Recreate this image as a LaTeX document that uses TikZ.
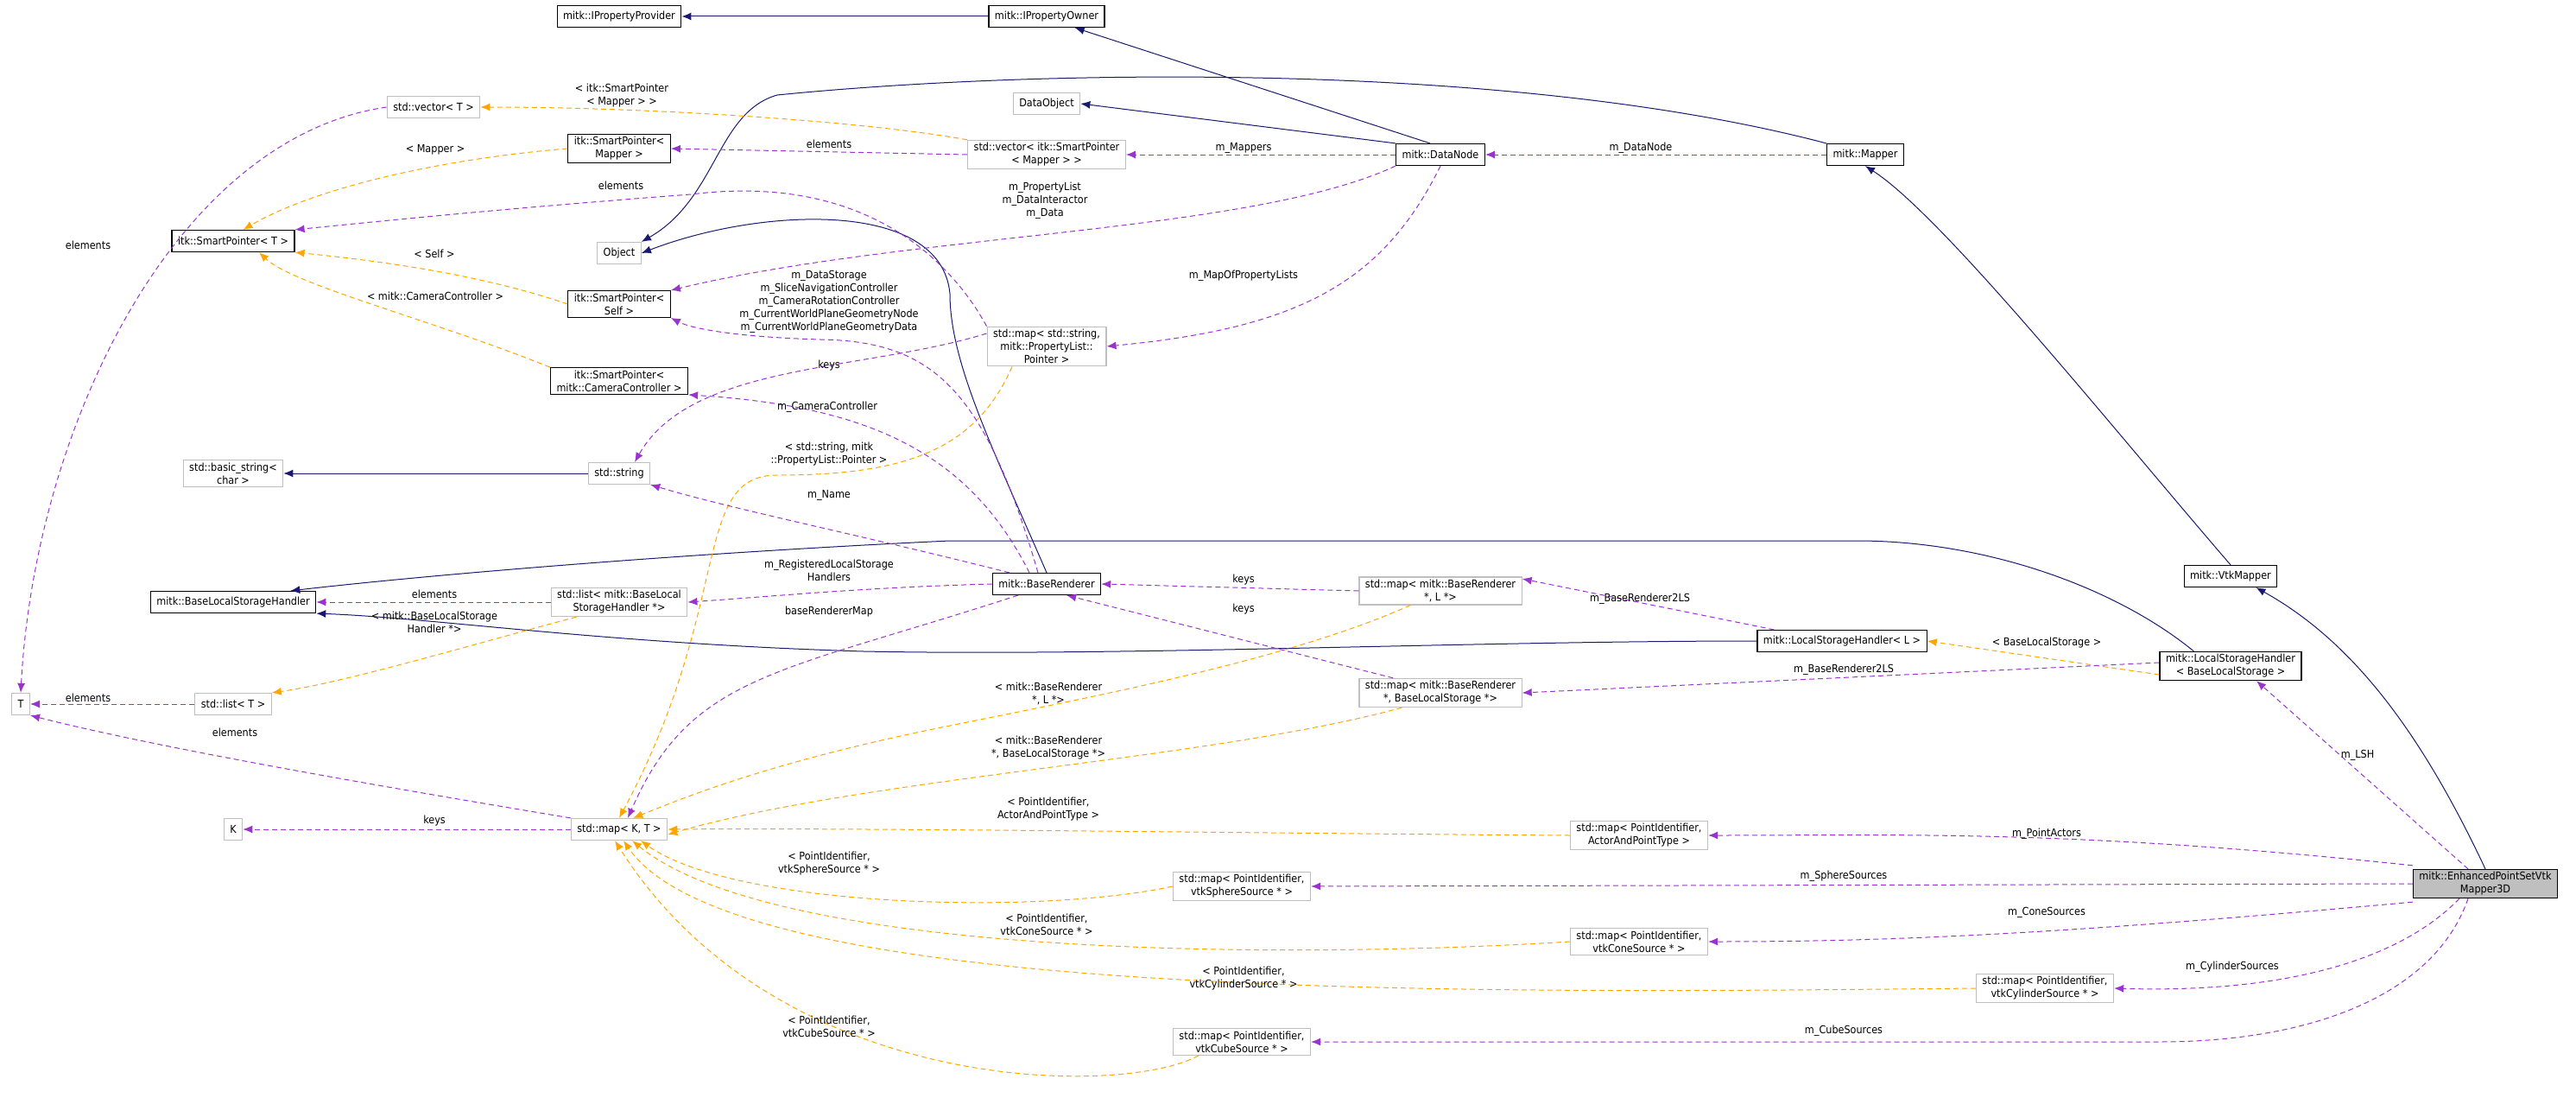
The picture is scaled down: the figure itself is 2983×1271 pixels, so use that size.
\documentclass[tikz,border=0pt]{standalone}
\usepackage{fontspec}
\setmainfont{DejaVu Sans Condensed}
\usetikzlibrary{arrows.meta}
\definecolor{navy}{HTML}{191970}
\definecolor{orng}{HTML}{FFA500}
\definecolor{purp}{HTML}{9A32CD}
\definecolor{gbord}{HTML}{BFBFBF}
\begin{document}
\begin{tikzpicture}[x=1pt,y=-1pt,
  every node/.style={font=\fontsize{12.5}{15}\selectfont},
  cls/.style={draw=black,line width=1.2pt,rectangle,minimum height=25,inner xsep=7,inner ysep=3,align=center},
  gcls/.style={cls,draw=gbord},
  lbl/.style={align=center,inner sep=0},
  inh/.style={draw=navy,line width=1pt,-{Latex[length=11,width=9]}},
  tmpl/.style={draw=orng,line width=1pt,dash pattern=on 6pt off 4pt,-{Latex[length=11,width=9]}},
  use/.style={draw=purp,line width=1pt,dash pattern=on 6pt off 4pt,-{Latex[length=11,width=9]}}]
\useasboundingbox (0,0) rectangle (2983,1271);
% nodes
\node[cls] (ipp) at (717,19) {mitk::IPropertyProvider};
\node[cls] (ipo) at (1212,19) {mitk::IPropertyOwner};
\node[gcls] (vecT) at (502,124) {std::vector< T >};
\node[cls] (spm) at (717,172) {itk::SmartPointer<\\Mapper >};
\node[cls] (spT) at (270,279) {itk::SmartPointer< T >};
\node[gcls] (obj) at (717,293) {Object};
\node[cls] (spself) at (717,352) {itk::SmartPointer<\\Self >};
\node[cls] (spcc) at (717,441) {itk::SmartPointer<\\mitk::CameraController >};
\node[gcls] (dobj) at (1212,120) {DataObject};
\node[gcls] (vecspm) at (1212,179) {std::vector< itk::SmartPointer\\< Mapper > >};
\node[cls] (dnode) at (1668,179) {mitk::DataNode};
\node[cls] (mapper) at (2160,179) {mitk::Mapper};
\node[gcls] (mapspl) at (1212,401) {std::map< std::string,\\mitk::PropertyList::\\Pointer >};
\node[gcls] (bstr) at (270,548) {std::basic\_string<\\char >};
\node[gcls] (str) at (717,548) {std::string};
\node[cls] (blsh) at (270,697) {mitk::BaseLocalStorageHandler};
\node[gcls] (listblsh) at (717,697) {std::list< mitk::BaseLocal\\StorageHandler *>};
\node[gcls] (T) at (24,815) {T};
\node[gcls] (listT) at (270,815) {std::list< T >};
\node[gcls] (K) at (270,960) {K};
\node[gcls] (mapKT) at (717,960) {std::map< K, T >};
\node[cls] (br) at (1212,676) {mitk::BaseRenderer};
\node[gcls] (mapbrl) at (1668,684) {std::map< mitk::BaseRenderer\\*, L *>};
\node[gcls] (mapbrbls) at (1668,802) {std::map< mitk::BaseRenderer\\*, BaseLocalStorage *>};
\node[cls] (lshl) at (2133,742) {mitk::LocalStorageHandler< L >};
\node[cls] (vtkm) at (2583,667) {mitk::VtkMapper};
\node[cls] (lshbls) at (2583,771) {mitk::LocalStorageHandler\\< BaseLocalStorage >};
\node[gcls] (actors) at (1898,967) {std::map< PointIdentifier,\\ActorAndPointType >};
\node[gcls] (sphere) at (1438,1026) {std::map< PointIdentifier,\\vtkSphereSource * >};
\node[gcls] (cone) at (1898,1090) {std::map< PointIdentifier,\\vtkConeSource * >};
\node[gcls] (cyl) at (2368,1144) {std::map< PointIdentifier,\\vtkCylinderSource * >};
\node[gcls] (cube) at (1438,1206) {std::map< PointIdentifier,\\vtkCubeSource * >};
\node[cls,fill=gbord] (epsvm) at (2878,1023) {mitk::EnhancedPointSetVtk\\Mapper3D};
% inheritance
\draw[inh] (ipo) -- (ipp);
\draw[inh] ([xshift=40pt]dnode.north west) -- ([xshift=-35pt]ipo.south east);
\draw[inh] (dnode.north west) -- (dobj.east);
\draw[inh] (mapper.north west) .. controls (1750,70) and (1200,80) .. (900,110) .. controls (830,130) and (830,230) .. (obj.north east);
\draw[inh] (br.north) .. controls (1150,520) and (1100,420) .. (1100,340) .. controls (1090,230) and (880,240) .. (obj.east);
\draw[inh] (str) -- (bstr);
\draw[inh] ([xshift=40pt]lshbls.north west) .. controls (2450,680) and (2300,626) .. (2150,626) -- (1100,626) .. controls (800,640) and (500,665) .. ([xshift=-30pt]blsh.north east);
\draw[inh] (lshl.west) .. controls (1700,742) and (1300,760) .. (1000,754) .. controls (700,745) and (500,715) .. (blsh.south east);
\draw[inh] (vtkm.north) .. controls (2450,500) and (2250,250) .. (mapper.south);
\draw[inh] (epsvm.north) .. controls (2800,840) and (2720,740) .. ([xshift=-25pt]vtkm.south east);
% template instantiations
\draw[tmpl] (vecspm.north west) .. controls (1000,140) and (750,124) .. (vecT.east);
\draw[tmpl] (spm.west) .. controls (500,185) and (360,220) .. ([xshift=-60pt]spT.north east);
\draw[tmpl] (spself.west) .. controls (550,315) and (420,300) .. (spT.south east);
\draw[tmpl] (spcc.north west) .. controls (500,370) and (340,330) .. ([xshift=30pt]spT.south);
\draw[tmpl] ([xshift=30pt]listblsh.south west) .. controls (550,745) and (400,790) .. (listT.north east);
\draw[tmpl] ([xshift=-40pt]mapspl.south) .. controls (1130,520) and (1050,550) .. (900,550) .. controls (800,550) and (850,700) .. (mapKT.north);
\draw[tmpl] ([xshift=60pt]mapbrl.south west) .. controls (1500,760) and (1300,800) .. (1100,840) .. controls (900,880) and (800,920) .. ([xshift=-40pt]mapKT.north east);
\draw[tmpl] ([xshift=50pt]mapbrbls.south west) .. controls (1400,880) and (1000,900) .. ([yshift=-6pt]mapKT.east);
\draw[tmpl] (actors.west) .. controls (1500,965) and (1000,958) .. (mapKT.east);
\draw[tmpl] (sphere.west) .. controls (1200,1060) and (850,1050) .. ([xshift=25pt]mapKT.south);
\draw[tmpl] (cone.west) .. controls (1500,1110) and (900,1110) .. ([xshift=15pt]mapKT.south);
\draw[tmpl] (cyl.west) .. controls (1700,1150) and (850,1160) .. ([xshift=5pt]mapKT.south);
\draw[tmpl] ([xshift=30pt]cube.south west) .. controls (1300,1270) and (900,1270) .. ([xshift=-5pt]mapKT.south);
\draw[tmpl] ([yshift=-10pt]lshbls.west) -- (lshl.east);
% usage
\draw[use] (vecT.west) .. controls (200,160) and (40,500) .. (T.north);
\draw[use] (vecspm.west) -- (spm.east);
\draw[use] (dnode.west) -- (vecspm.east);
\draw[use] (mapper.west) -- (dnode.east);
\draw[use] (mapspl.north west) .. controls (1100,300) and (1000,200) .. (800,225) .. controls (600,240) and (450,255) .. (spT.north east);
\draw[use] (dnode.south west) .. controls (1450,270) and (1050,270) .. (spself.north east);
\draw[use] ([xshift=-10pt]br.north) .. controls (1140,450) and (1080,395) .. (950,393) .. controls (850,390) and (800,380) .. (spself.south east);
\draw[use] (dnode.south) .. controls (1600,330) and (1500,380) .. (mapspl.east);
\draw[use] ([xshift=-20pt]br.north) .. controls (1120,520) and (1000,470) .. (spcc.south east);
\draw[use] ([yshift=15pt]mapspl.west) .. controls (1000,430) and (800,420) .. ([xshift=18pt]str.north);
\draw[use] ([xshift=20pt]br.north west) .. controls (1000,620) and (850,590) .. (str.south east);
\draw[use] (br.west) .. controls (1000,680) and (900,690) .. (listblsh.east);
\draw[use] (listblsh.west) -- (blsh.east);
\draw[use] (listT.west) -- (T.east);
\draw[use] (mapKT.north west) .. controls (500,920) and (200,870) .. (T.south east);
\draw[use] (mapKT.west) -- (K.east);
\draw[use] ([xshift=30pt]br.south west) .. controls (900,780) and (800,780) .. ([xshift=10pt]mapKT.north);
\draw[use] (mapbrl.west) -- (br.east);
\draw[use] ([xshift=40pt]mapbrbls.north west) -- ([xshift=-40pt]br.south east);
\draw[use] ([xshift=20pt]lshl.north west) -- ([yshift=14pt]mapbrl.east);
\draw[use] ([yshift=4pt]lshbls.west) -- (mapbrbls.east);
\draw[use] ([xshift=-20pt]epsvm.north) -- ([xshift=30pt]lshbls.south);
\draw[use] ([yshift=4pt]epsvm.north west) .. controls (2400,960) and (2200,967) .. (actors.east);
\draw[use] (epsvm.west) -- (sphere.east);
\draw[use] ([yshift=-4pt]epsvm.south west) .. controls (2400,1080) and (2200,1090) .. (cone.east);
\draw[use] ([xshift=-30pt]epsvm.south) .. controls (2780,1110) and (2650,1150) .. (cyl.east);
\draw[use] ([xshift=-20pt]epsvm.south) .. controls (2820,1150) and (2680,1206) .. (2500,1206) -- (cube.east);
% labels
\node[lbl] (l1) at (720,111) {< itk::SmartPointer\\< Mapper > >};
\node[lbl] (l2) at (504,173) {< Mapper >};
\node[lbl] (l3) at (719,215) {elements};
\node[lbl] (l4) at (102,284) {elements};
\node[lbl] (l5) at (503,294) {< Self >};
\node[lbl] (l6) at (504,343) {< mitk::CameraController >};
\node[lbl] (l7) at (960,423) {keys};
\node[lbl] (l8) at (960,349) {m\_DataStorage\\m\_SliceNavigationController\\m\_CameraRotationController\\m\_CurrentWorldPlaneGeometryNode\\m\_CurrentWorldPlaneGeometryData};
\node[lbl] (l9) at (958,471) {m\_CameraController};
\node[lbl] (l10) at (960,167) {elements};
\node[lbl] (l11) at (1440,171) {m\_Mappers};
\node[lbl] (l12) at (1900,171) {m\_DataNode};
\node[lbl] (l13) at (1210,232) {m\_PropertyList\\m\_DataInteractor\\m\_Data};
\node[lbl] (l14) at (1440,319) {m\_MapOfPropertyLists};
\node[lbl] (l15) at (503,688) {elements};
\node[lbl] (l16) at (503,720) {< mitk::BaseLocalStorage\\Handler *>};
\node[lbl] (l17) at (102,808) {elements};
\node[lbl] (l18) at (272,848) {elements};
\node[lbl] (l19) at (503,950) {keys};
\node[lbl] (l20) at (960,573) {m\_Name};
\node[lbl] (l21) at (960,660) {m\_RegisteredLocalStorage\\Handlers};
\node[lbl] (l22) at (960,708) {baseRendererMap};
\node[lbl] (l23) at (960,526) {< std::string, mitk\\::PropertyList::Pointer >};
\node[lbl] (l24) at (1440,671) {keys};
\node[lbl] (l25) at (1440,705) {keys};
\node[lbl] (l26) at (1899,693) {m\_BaseRenderer2LS};
\node[lbl] (l27) at (1214,803) {< mitk::BaseRenderer\\*, L *>};
\node[lbl] (l28) at (1214,866) {< mitk::BaseRenderer\\*, BaseLocalStorage *>};
\node[lbl] (l29) at (1214,937) {< PointIdentifier,\\ActorAndPointType >};
\node[lbl] (l30) at (960,1000) {< PointIdentifier,\\vtkSphereSource * >};
\node[lbl] (l31) at (1212,1070) {< PointIdentifier,\\vtkConeSource * >};
\node[lbl] (l32) at (1440,1133) {< PointIdentifier,\\vtkCylinderSource * >};
\node[lbl] (l33) at (960,1188) {< PointIdentifier,\\vtkCubeSource * >};
\node[lbl] (l34) at (2370,744) {< BaseLocalStorage >};
\node[lbl] (l35) at (2135,775) {m\_BaseRenderer2LS};
\node[lbl] (l36) at (2730,874) {m\_LSH};
\node[lbl] (l37) at (2370,965) {m\_PointActors};
\node[lbl] (l38) at (2135,1014) {m\_SphereSources};
\node[lbl] (l39) at (2370,1056) {m\_ConeSources};
\node[lbl] (l40) at (2585,1119) {m\_CylinderSources};
\node[lbl] (l41) at (2135,1193) {m\_CubeSources};
\end{tikzpicture}
\end{document}
